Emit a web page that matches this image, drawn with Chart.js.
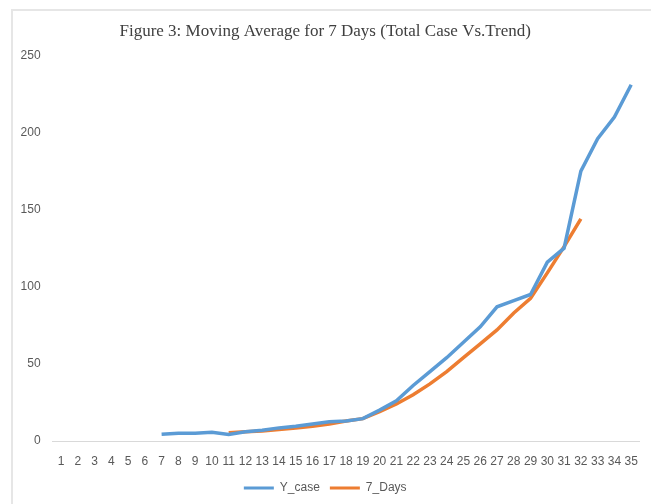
<!DOCTYPE html>
<html>
<head>
<meta charset="utf-8">
<script src="https://cdn.jsdelivr.net/npm/chart.js@4"></script>
<style>
  html, body { margin: 0; padding: 0; background: #fff; }
  #wrap { position: relative; width: 651px; height: 504px; }
  #frame {
    position: absolute; left: 11px; top: 9px; right: 0; bottom: 0;
    border-left: 2px solid #e6e6e6; border-top: 2px solid #e6e6e6;
    pointer-events: none;
  }
</style>
</head>
<body>
<div id="wrap">
  <canvas id="maChart" width="651" height="504"></canvas>
  <div id="frame"></div>
</div>
<script>
const DAYS = Array.from({ length: 35 }, (_, i) => String(i + 1));
const Y_CASE = [null, null, null, null, null, null, 4.3, 5, 5, 5.6,
  4.3, 6, 7, 8.5, 9.5, 11, 12.5, 13, 14.5, 20,
  26, 36, 45, 54, 64, 74, 87, 91, 95, 116,
  125, 175, 196, 210, 231];
const SEVEN_DAYS = [null, null, null, null, null, null, null, null, null, null,
  5.3, 6, 6.5, 7.5, 8.5, 9.5, 11, 13, 14.5, 19,
  24, 30, 37, 45, 54, 63, 72, 83, 92.5, 109,
  126, 144, null, null, null];
const Y_TICKS = [0, 50, 100, 150, 200, 250];

const TEXT = "#595959";

function renderChart() {
  const ctx = document.getElementById("maChart").getContext("2d");
  new Chart(ctx, {
    type: "line",
    data: {
      labels: DAYS,
      datasets: [
        {
          label: "Y_case",
          data: Y_CASE,
          borderColor: "#5b9bd5",
          backgroundColor: "#5b9bd5",
          borderWidth: 3.5,
          pointRadius: 0,
          tension: 0
        },
        {
          label: "7_Days",
          data: SEVEN_DAYS,
          borderColor: "#ed7d31",
          backgroundColor: "#ed7d31",
          borderWidth: 3.5,
          pointRadius: 0,
          tension: 0
        }
      ]
    },
    options: {
      responsive: false,
      animation: false,
      layout: { padding: { top: 12, right: 10.6, bottom: 0, left: 10 } },
      scales: {
        x: {
          offset: true,
          afterFit: scale => { scale.height = 31; },
          grid: { display: false, drawTicks: false, offset: true },
          border: { display: true, color: "#d9d9d9", width: 1 },
          ticks: { color: TEXT, font: { family: "Liberation Sans", size: 12 }, padding: 13, maxRotation: 0, autoSkip: false }
        },
        y: {
          min: 0,
          max: 250,
          afterFit: scale => { scale.width = 42.6; },
          afterBuildTicks: scale => { scale.ticks = Y_TICKS.map(v => ({ value: v })); },
          grid: { display: false, drawTicks: false },
          border: { display: false },
          ticks: { color: TEXT, font: { family: "Liberation Sans", size: 12 }, padding: 12 }
        }
      },
      plugins: {
        title: {
          display: true,
          text: "Figure 3: Moving Average for 7 Days (Total Case Vs.Trend)",
          color: "#404040",
          font: { family: "Liberation Serif", size: 17, weight: "normal" },
          padding: { top: 9, bottom: 14 }
        },
        legend: {
          position: "bottom",
          labels: {
            color: TEXT,
            font: { family: "Liberation Sans", size: 12 },
            boxWidth: 30,
            boxHeight: 3,
            padding: 10,
            generateLabels: chart => Chart.defaults.plugins.legend.labels.generateLabels(chart)
              .map(item => Object.assign(item, { lineWidth: 0 }))
          }
        },
        tooltip: { enabled: false }
      }
    }
  });
}

document.addEventListener("DOMContentLoaded", () => {
  renderChart();
});
</script>
</body>
</html>
